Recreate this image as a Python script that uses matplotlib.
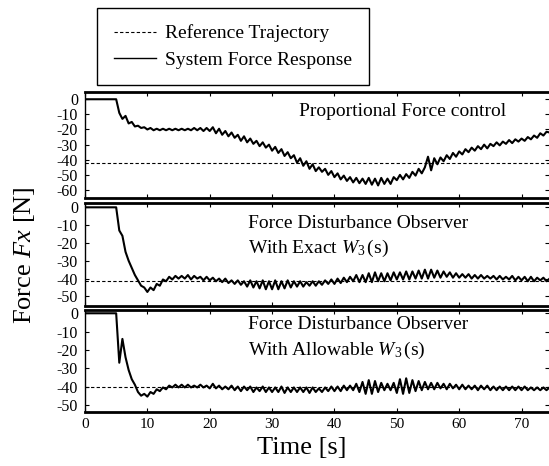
import numpy as np
import matplotlib
matplotlib.use("Agg")
import matplotlib.pyplot as plt
from matplotlib.lines import Line2D

plt.rcParams['font.family'] = ['Liberation Serif', 'DejaVu Serif']
plt.rcParams['mathtext.fontset'] = 'custom'
plt.rcParams['mathtext.rm'] = 'Liberation Serif'
plt.rcParams['mathtext.it'] = 'Liberation Serif:italic'
plt.rcParams['axes.unicode_minus'] = False

# sample step of the recorded force [s]
DT = 0.5

# Proportional force control response [N]
force_prop = [
    0, 0, 0, 0, 0, 0, 0, 0, 0, 0,
    0, -9, -13, -11, -16, -15, -18, -17.5, -19, -18.5,
    -20, -19, -20.5, -19.5, -20.5, -19.5, -20.5, -19.5, -20.5, -19.5,
    -20.5, -19.5, -20.5, -19.5, -20.5, -19, -20.5, -19, -21, -19,
    -21, -18.5, -22.5, -19.5, -23.5, -21, -24.5, -22, -25.5, -23.5,
    -27.5, -24.5, -28.5, -26, -29.5, -27.5, -31, -28.5, -32, -30,
    -34, -31.5, -35.5, -33, -37.5, -35, -39, -37, -42, -39,
    -44, -41, -46, -43, -47.5, -45, -48, -46, -50, -47.5,
    -51.5, -49, -53, -50.5, -54, -51.5, -55, -52, -55.5, -52.5,
    -56, -52, -56.5, -52.5, -57, -52, -56, -52.5, -56, -51.5,
    -53.5, -50, -53, -49.5, -52, -48, -50.5, -46, -49, -45,
    -38, -47, -39, -43, -38.5, -41, -37, -39.5, -35.5, -38,
    -34.5, -36.5, -33, -35, -32, -34, -31, -33, -30, -32.5,
    -29.5, -31, -28.5, -30.5, -28, -29.5, -27, -29, -26.5, -28,
    -26, -27.5, -25, -26.5, -24, -25.5, -22.5, -24, -21.5, -22,
]

# Force disturbance observer with exact W3(s) [N]
force_exact = [
    0, 0, 0, 0, 0, 0, 0, 0, 0, 0,
    0, -13, -16, -25, -30, -34, -38, -41, -44, -45,
    -47.5, -45, -46.5, -43, -44, -40.5, -41.5, -39, -40.5, -38.5,
    -40, -38.5, -40, -38, -40.5, -38.5, -40, -39, -41, -39,
    -41, -39.5, -41.5, -40, -42, -40, -42.5, -41, -43, -41,
    -43.5, -41.5, -44.5, -41, -45, -41.5, -45.5, -41, -46, -41.5,
    -46, -41, -46, -41.5, -45.5, -41, -45, -41.5, -44.5, -41.5,
    -44.5, -42, -44, -41.5, -44, -41.5, -43.5, -41, -43, -40.5,
    -43, -40, -42.5, -39.5, -42, -39, -41.5, -38, -42, -38,
    -42, -37, -42, -36.5, -41.5, -37, -41.5, -37, -41, -36.5,
    -40.5, -36.5, -40.5, -36, -40.5, -36, -40, -35.5, -40, -35,
    -40, -35, -39.5, -35.5, -39.5, -36, -39, -36.5, -39.5, -37,
    -39.5, -37.5, -39.5, -37.5, -40, -38, -40, -38, -40, -38.5,
    -40, -38.5, -40.5, -38.5, -40.5, -39, -40.5, -38.5, -41, -39,
    -41, -39, -41.5, -39, -41.5, -39.5, -41, -39.5, -41.5, -40,
]

# Force disturbance observer with allowable W3(s) [N]
force_allow = [
    0, 0, 0, 0, 0, 0, 0, 0, 0, 0,
    0, -27, -14, -24, -31, -36, -39, -43, -45, -44,
    -45.5, -43, -44, -41.5, -42.5, -40.5, -41.5, -39.5, -40.5, -39,
    -40.5, -39, -40.5, -39, -40.5, -39.5, -40.5, -39, -40.5, -39.5,
    -41, -38.5, -41, -39.5, -41.5, -40, -41.5, -39.5, -42, -40,
    -42.5, -40, -42, -40, -43, -40.5, -42.5, -40, -43, -40.5,
    -43, -40.5, -43, -40, -43.5, -40.5, -43, -40.5, -43, -40.5,
    -43, -40.5, -43.5, -40.5, -43, -41, -43, -40.5, -42.5, -40,
    -42.5, -40, -42.5, -39.5, -42, -39.5, -42, -38.5, -43, -37.5,
    -44, -36.5, -44, -37, -43, -38, -42, -38.5, -42, -38,
    -43.5, -36, -44, -35.5, -43.5, -36.5, -42.5, -37, -42, -37.5,
    -41.5, -38, -41.5, -38, -41, -38.5, -41.5, -38.5, -41, -39,
    -41.5, -39, -41.5, -39.5, -41.5, -39.5, -42, -39.5, -41.5, -39.5,
    -42, -40, -42, -40, -42, -40, -42, -40, -42, -40,
    -42, -40, -42, -40.5, -42, -40.5, -42, -40.5, -42, -40.5,
]

# reference trajectory level in each panel [N]
ref_levels = [-42, -41.5, -40.5]

panel_titles = [
    ["Proportional Force control"],
    ["Force Disturbance Observer", r"With Exact $W_3\,$(s)"],
    ["Force Disturbance Observer", r"With Allowable $W_3\,$(s)"],
]
y_ticks = [[0, -10, -20, -30, -40, -50, -60],
           [0, -10, -20, -30, -40, -50],
           [0, -10, -20, -30, -40, -50]]
y_lims = [(-65.3, 4.8), (-55.4, 2.4), (-53.9, 1.8)]
x_ticks = [0, 10, 20, 30, 40, 50, 60, 70]

fig = plt.figure(figsize=(5.49, 4.66), dpi=100)

# axes rectangles (left, bottom, width, height), panels stacked with no gap
rects = [(0.1548, 0.5751, 0.8452, 0.2275),
         (0.1548, 0.3433, 0.8452, 0.2210),
         (0.1548, 0.1159, 0.8452, 0.2189)]
# text anchor of the panel captions in axes fraction
title_pos = [(0.461, [0.814]), (0.352, [0.806, 0.563]), (0.352, [0.853, 0.608])]

all_forces = [force_prop, force_exact, force_allow]
axes = []
for i in range(3):
    ax = fig.add_axes(rects[i])
    force = np.array(all_forces[i])
    t = np.arange(len(force)) * DT
    ax.plot(t, force, color='black', lw=1.5)
    ax.axhline(ref_levels[i], color='black', lw=0.8, ls=(0, (3, 2)))

    ax.set_xlim(0, 74.4)
    ax.set_ylim(*y_lims[i])
    ax.set_yticks(y_ticks[i])
    ax.set_yticklabels([str(v) for v in y_ticks[i]], fontsize=11.5)
    ax.set_xticks(x_ticks)
    ax.tick_params(direction='in', length=3, width=0.8, top=True, right=True, pad=5)
    ax.tick_params(axis='x', pad=4)
    if i < 2:
        ax.set_xticklabels([])
    else:
        ax.set_xticklabels([str(v) for v in x_ticks], fontsize=11)

    ax.spines['top'].set_linewidth(2.0)
    ax.spines['bottom'].set_linewidth(2.0)
    ax.spines['left'].set_linewidth(1.0)
    ax.spines['right'].set_visible(False)

    tx, tys = title_pos[i]
    for line, ty in zip(panel_titles[i], tys):
        ax.text(tx, ty, line, transform=ax.transAxes, fontsize=14, va='center', ha='left')
    axes.append(ax)

fig.text(0.55, 0.038, "Time [s]", fontsize=19, ha='center', va='center')
fig.text(0.045, 0.453, r"Force $Fx$ [N]", rotation=90, fontsize=19, ha='center', va='center')

handles = [Line2D([], [], color='black', lw=0.8, ls=(0, (3, 2))),
           Line2D([], [], color='black', lw=1.0)]
leg = fig.legend(handles, ["Reference Trajectory", "System Force Response"],
                 loc='upper left', bbox_to_anchor=(0.177, 0.983), borderaxespad=0,
                 fontsize=14, handlelength=2.2, handletextpad=0.45, labelspacing=0.45,
                 borderpad=0.85, fancybox=False, framealpha=1, edgecolor='black')
leg.get_frame().set_linewidth(1.0)

fig.savefig("out.png", dpi=100)
